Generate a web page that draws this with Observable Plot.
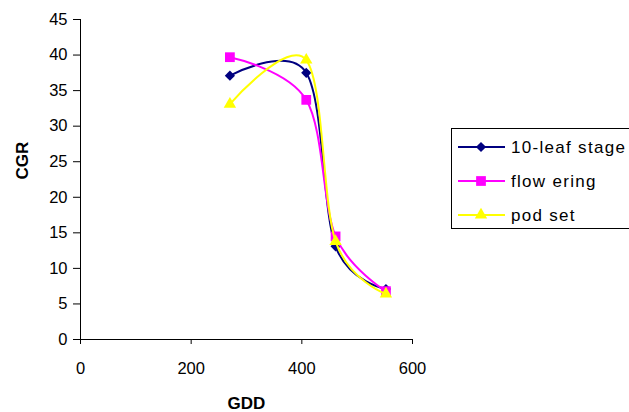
<!DOCTYPE html>
<html><head><meta charset="utf-8">
<script src="https://cdn.jsdelivr.net/npm/d3@7"></script>
<script src="https://cdn.jsdelivr.net/npm/@observablehq/plot@0.6"></script>
<style>body{margin:0;background:#fff} #wrap{position:relative;width:629px;height:412px;overflow:hidden}</style>
</head><body><div id="wrap"></div>
<script>
const seriesNames = ["10-leaf stage", "flow ering", "pod set"];
const seriesColors = ["#000080", "#FF00FF", "#FFFF00"];
const seriesSymbols = ["diamond2", "square", "triangle"];
const gdd = [270, 408, 461, 552];
const cgrLeaf = [37.1, 37.5, 13.1, 7.1];
const cgrFlowering = [39.7, 33.7, 14.5, 6.8];
const cgrPodSet = [33.1, 39.3, 13.8, 6.4];
const xTicks = [0, 200, 400, 600];
const yTicks = [0, 5, 10, 15, 20, 25, 30, 35, 40, 45];
const xTitle = "GDD";
const yTitle = "CGR";

const seriesValues = [cgrLeaf, cgrFlowering, cgrPodSet];
const symbolR = [4.6, 5.5, 4.6];

const marks = [
  Plot.axisX({ticks: xTicks, tickSize: 5, tickPadding: 18, label: null, fontSize: 16.5, style: {letterSpacing: "1px"}}),
  Plot.axisY({ticks: yTicks, tickSize: 7, tickPadding: 6, label: null, fontSize: 16.5, style: {letterSpacing: "1px"}}),
  Plot.ruleX([0], {stroke: "black"}),
  Plot.ruleY([0], {stroke: "black"}),
  Plot.text([xTitle], {text: d => d, frameAnchor: "bottom", dy: 64, fontWeight: "bold", fontSize: 17, lineAnchor: "middle"}),
  Plot.text([yTitle], {text: d => d, frameAnchor: "left", dx: -58, rotate: -90, fontWeight: "bold", fontSize: 17, lineAnchor: "middle"})
];
seriesValues.forEach((vals, i) => {
  const data = gdd.map((g, j) => ({x: g, y: vals[j]}));
  marks.push(Plot.line(data, {x: "x", y: "y", stroke: seriesColors[i], strokeWidth: 2, curve: "cardinal"}));
  marks.push(Plot.dot(data, {x: "x", y: "y", symbol: () => seriesSymbols[i], r: symbolR[i], fill: seriesColors[i], stroke: "none"}));
});

const chart = Plot.plot({
  width: 629, height: 412,
  marginLeft: 80, marginTop: 19, marginBottom: 73, marginRight: 217,
  style: {fontFamily: "'Liberation Sans', Arial, sans-serif", fontSize: "16px", background: "white", color: "black"},
  x: {domain: [0, 600]},
  y: {domain: [0, 45]},
  marks
});
document.getElementById("wrap").appendChild(chart);

// legend
const svg = d3.select(chart);
const lg = svg.append("g").attr("text-anchor", "start");
lg.append("rect").attr("x", 451.5).attr("y", 128.5).attr("width", 200).attr("height", 100)
  .attr("fill", "white").attr("stroke", "black").attr("stroke-width", 1);
const rowY = [147, 181, 215];
const symMap = {diamond2: d3.symbolDiamond2, square: d3.symbolSquare, triangle: d3.symbolTriangle};
seriesNames.forEach((name, i) => {
  const g = lg.append("g");
  g.append("line").attr("x1", 458).attr("x2", 505).attr("y1", rowY[i]).attr("y2", rowY[i])
    .attr("stroke", seriesColors[i]).attr("stroke-width", 2);
  const r = symbolR[i];
  g.append("path").attr("d", d3.symbol(symMap[seriesSymbols[i]], Math.PI * r * r)())
    .attr("transform", `translate(481,${rowY[i]})`).attr("fill", seriesColors[i]);
  g.append("text").attr("x", 511).attr("y", rowY[i]).attr("dy", "0.35em")
    .attr("text-anchor", "start")
    .attr("font-size", 17).attr("letter-spacing", "1.3px").attr("fill", "black")
    .text(name);
});
</script></body></html>
